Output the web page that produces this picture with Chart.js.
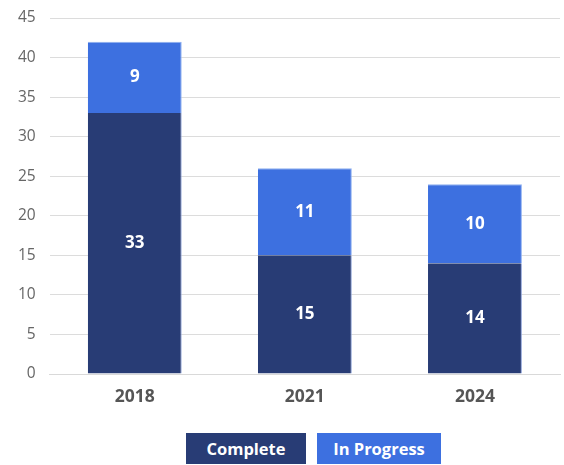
<!DOCTYPE html>
<html><head><meta charset="utf-8">
<script src="https://cdn.jsdelivr.net/npm/chart.js@4"></script>
<style>
html,body{margin:0;padding:0;background:#fff;}
#wrap{position:relative;width:564px;height:413px;}
#legend{position:absolute;left:186px;top:433px;display:flex;gap:11px;font-family:"Open Sans",sans-serif;}
#legend div{color:#fff;font-weight:700;font-size:16.5px;height:31px;line-height:31px;text-align:center;}
</style></head>
<body>
<div id="wrap"><canvas id="c" width="564" height="413"></canvas></div>
<div id="legend"></div>
<script>
const categories = ["2018", "2021", "2024"];
const completeValues = [33, 15, 14];
const inProgressValues = [9, 11, 10];
const seriesNames = ["Complete", "In Progress"];
const seriesColors = ["#283c75", "#3d70e0"];
const yTicks = [0, 5, 10, 15, 20, 25, 30, 35, 40, 45];

const FONT = '"Open Sans", sans-serif';

const labelPlugin = {
  id: 'barLabels',
  afterDatasetsDraw(chart) {
    const ctx = chart.ctx;
    ctx.save();
    ctx.fillStyle = '#fff';
    ctx.font = '700 17px ' + FONT;
    ctx.textAlign = 'center';
    ctx.textBaseline = 'middle';
    chart.data.datasets.forEach((ds, i) => {
      chart.getDatasetMeta(i).data.forEach((bar, j) => {
        const p = bar.getProps(['x', 'y', 'base'], true);
        ctx.fillText(String(ds.data[j]), p.x, (p.y + p.base) / 2);
      });
    });
    ctx.restore();
  }
};

new Chart(document.getElementById('c'), {
  type: 'bar',
  data: {
    labels: categories,
    datasets: [
      { label: seriesNames[0], data: completeValues, backgroundColor: seriesColors[0], borderColor: '#8fa3d6', borderWidth: {top:0,bottom:1,left:0,right:1} },
      { label: seriesNames[1], data: inProgressValues, backgroundColor: seriesColors[1], borderColor: '#8fb0f0', borderWidth: {top:1,bottom:0,left:0,right:1} }
    ]
  },
  options: {
    responsive: false,
    animation: false,
    events: [],
    layout: { padding: { top: 18, right: 4, left: 4, bottom: 0 } },
    plugins: { legend: { display: false }, tooltip: { enabled: false } },
    datasets: { bar: { categoryPercentage: 0.552, barPercentage: 1 } },
    scales: {
      x: {
        stacked: true,
        grid: { display: false },
        border: { color: '#d9d9d9' },
        ticks: { color: '#555', font: { family: FONT, size: 17.5, weight: '700' }, padding: 5 },
        afterFit(axis) { axis.paddingLeft = 0; axis.paddingRight = 0; }
      },
      y: {
        stacked: true,
        min: 0, max: 45,
        afterBuildTicks(axis) { axis.ticks = yTicks.map(v => ({ value: v })); },
        afterFit(axis) { axis.paddingTop = 0; axis.paddingBottom = 0; },
        grid: { color: '#dcdcdc', drawTicks: false },
        border: { display: false },
        ticks: { color: '#666', font: { family: FONT, size: 15.5 }, padding: 14 }
      }
    }
  },
  plugins: [labelPlugin]
});

const legendWidths = [120, 124];
const lg = document.getElementById('legend');
seriesNames.forEach((n, i) => {
  const d = document.createElement('div');
  d.textContent = n;
  d.style.background = seriesColors[i];
  d.style.width = legendWidths[i] + 'px';
  lg.appendChild(d);
});
</script>
</body></html>
